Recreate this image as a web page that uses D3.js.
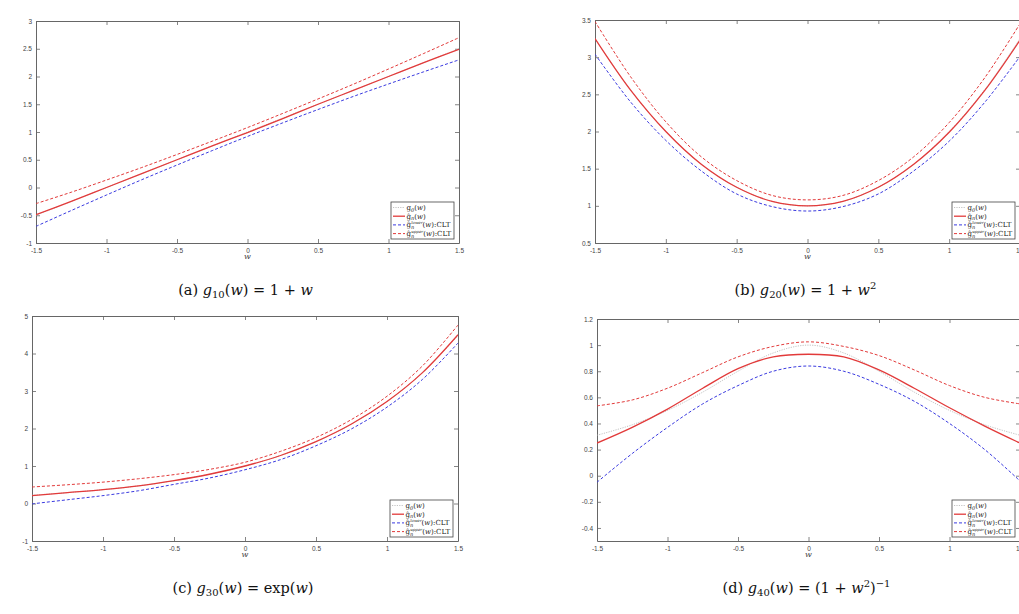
<!DOCTYPE html>
<html>
<head>
<meta charset="utf-8">
<script src="https://cdn.jsdelivr.net/npm/d3@7"></script>
<style>
  body { margin: 0; background: #fff; }
  svg { display: block; }
  .tick-label { font-family: "Liberation Sans", Arial, sans-serif; font-size: 6.5px; fill: #444; }
  .legend-text { font-family: "DejaVu Serif", "Liberation Serif", serif; font-size: 7px; fill: #222; }
  .caption { font-family: "DejaVu Serif", "Liberation Serif", serif; font-size: 14.5px; fill: #111; }
  .xlabel { font-family: "DejaVu Serif", "Liberation Serif", serif; font-style: italic; font-size: 8px; fill: #444; }
</style>
</head>
<body>
<svg id="chart" width="1019" height="614"></svg>
<script>
const wGrid = [-1.5, -1.25, -1, -0.75, -0.5, -0.25, 0, 0.25, 0.5, 0.75, 1, 1.25, 1.5];
const xTicks = [-1.5, -1, -0.5, 0, 0.5, 1, 1.5];

// (a) g10(w) = 1 + w
const g0A    = [-0.5, -0.25, 0, 0.25, 0.5, 0.75, 1, 1.25, 1.5, 1.75, 2, 2.25, 2.5];
const hatA   = [-0.49, -0.25, 0, 0.25, 0.5, 0.75, 0.99, 1.24, 1.5, 1.75, 2, 2.25, 2.49];
const lowerA = [-0.7, -0.415, -0.135, 0.14, 0.405, 0.665, 0.92, 1.165, 1.405, 1.64, 1.865, 2.085, 2.3];
const upperA = [-0.29, -0.085, 0.135, 0.36, 0.595, 0.835, 1.08, 1.335, 1.595, 1.86, 2.135, 2.415, 2.7];
const yTicksA = [-1, -0.5, 0, 0.5, 1, 1.5, 2, 2.5, 3];

// (b) g20(w) = 1 + w^2
const g0B    = [3.25, 2.56, 2.0, 1.56, 1.25, 1.06, 1.0, 1.06, 1.25, 1.56, 2.0, 2.56, 3.25];
const hatB   = [3.25, 2.56, 2.0, 1.56, 1.25, 1.06, 1.0, 1.06, 1.25, 1.56, 1.99, 2.55, 3.23];
const lowerB = [3.04, 2.40, 1.88, 1.47, 1.16, 0.99, 0.93, 0.99, 1.16, 1.47, 1.87, 2.39, 3.01];
const upperB = [3.48, 2.74, 2.13, 1.66, 1.34, 1.14, 1.08, 1.14, 1.34, 1.66, 2.12, 2.72, 3.45];
const yTicksB = [0.5, 1, 1.5, 2, 2.5, 3, 3.5];

// (c) g30(w) = exp(w)
const g0C    = [0.22, 0.29, 0.37, 0.47, 0.61, 0.78, 1.0, 1.28, 1.65, 2.12, 2.72, 3.49, 4.48];
const hatC   = [0.21, 0.29, 0.37, 0.47, 0.61, 0.78, 1.0, 1.28, 1.65, 2.12, 2.72, 3.49, 4.5];
const lowerC = [-0.01, 0.1, 0.21, 0.34, 0.51, 0.68, 0.9, 1.17, 1.54, 1.99, 2.57, 3.31, 4.28];
const upperC = [0.44, 0.5, 0.57, 0.66, 0.77, 0.91, 1.1, 1.39, 1.76, 2.24, 2.86, 3.67, 4.76];
const yTicksC = [-1, 0, 1, 2, 3, 4, 5];

// (d) g40(w) = (1 + w^2)^-1
const g0D    = [0.31, 0.39, 0.5, 0.64, 0.8, 0.94, 1.0, 0.94, 0.8, 0.64, 0.5, 0.39, 0.31];
const hatD   = [0.25, 0.37, 0.51, 0.67, 0.82, 0.91, 0.93, 0.91, 0.81, 0.67, 0.52, 0.38, 0.25];
const lowerD = [-0.05, 0.17, 0.37, 0.55, 0.69, 0.80, 0.84, 0.80, 0.70, 0.57, 0.40, 0.20, -0.04];
const upperD = [0.535, 0.58, 0.67, 0.79, 0.91, 0.99, 1.025, 0.99, 0.92, 0.81, 0.69, 0.60, 0.55];
const yTicksD = [-0.4, -0.2, 0, 0.2, 0.4, 0.6, 0.8, 1, 1.2];

let svg = d3.select("#chart");

let panels = [
    {id: "a", box: [36, 21, 459, 243], yDomain: [-1, 3], yTicks: yTicksA,
     series: [g0A, hatA, lowerA, upperA], num: "10", rhs: [["1 + ", 0], ["w", "i"]]},
    {id: "b", box: [595, 20, 1020, 243], yDomain: [0.5, 3.5], yTicks: yTicksB,
     series: [g0B, hatB, lowerB, upperB], num: "20", rhs: [["1 + ", 0], ["w", "i"], ["2", "sup"]]},
    {id: "c", box: [32, 316, 458, 541], yDomain: [-1, 5], yTicks: yTicksC,
     series: [g0C, hatC, lowerC, upperC], num: "30", rhs: [["exp(", 0], ["w", "i"], [")", 0]]},
    {id: "d", box: [597, 319, 1020, 541], yDomain: [-0.5, 1.2], yTicks: yTicksD,
     series: [g0D, hatD, lowerD, upperD], num: "40",
     rhs: [["(1 + ", 0], ["w", "i"], ["2", "sup"], [")", 0], ["\u22121", "sup"]]}
];

let styles = [
    {color: "#b4b4b4", width: 0.8, dash: "1.2,1.2"},
    {color: "#e23a3a", width: 1.3, dash: null},
    {color: "#3a3ae0", width: 1, dash: "3,2"},
    {color: "#e23a3a", width: 1, dash: "3,2"}
];

let fmt = d => String(+d.toFixed(2));

// legend entries: [text, kind] where kind controls italic / sub / sup placement
let legendLabels = [
    [["g", 0], ["0", "sub"], ["(", "base"], ["w", "i"], [")", 0]],
    [["\u011D", 0], ["n", "sub"], ["(", "base"], ["w", "i"], [")", 0]],
    [["\u011D", 0], ["n", "sub"], ["lower", "supAfterSub"], ["(", "baseFromSup"], ["w", "i"], ["):CLT", 0]],
    [["\u011D", 0], ["n", "sub"], ["upper", "supAfterSub"], ["(", "baseFromSup"], ["w", "i"], ["):CLT", 0]]
];

panels.forEach(p => {
    let [x0, y0, x1, y1] = p.box;
    let xScale = d3.scaleLinear().domain([-1.5, 1.5]).range([x0, x1]);
    let yScale = d3.scaleLinear().domain(p.yDomain).range([y1, y0]);
    let g = svg.append("g").attr("class", "panel-" + p.id);

    g.append("clipPath").attr("id", "clip-" + p.id)
        .append("rect").attr("x", x0).attr("y", y0).attr("width", x1 - x0).attr("height", y1 - y0);

    // axes box with inward ticks on all four sides
    let tl = 4;
    let axisColor = "#666";
    let bottom = d3.axisBottom(xScale).tickValues(xTicks).tickSizeInner(-tl).tickSizeOuter(0).tickFormat(fmt).tickPadding(5);
    let top = d3.axisTop(xScale).tickValues(xTicks).tickSizeInner(-tl).tickSizeOuter(0).tickFormat("");
    let left = d3.axisLeft(yScale).tickValues(p.yTicks).tickSizeInner(-tl).tickSizeOuter(0).tickFormat(fmt).tickPadding(4);
    let right = d3.axisRight(yScale).tickValues(p.yTicks).tickSizeInner(-tl).tickSizeOuter(0).tickFormat("");

    let axes = [
        g.append("g").attr("transform", `translate(0,${y1})`).call(bottom),
        g.append("g").attr("transform", `translate(0,${y0})`).call(top),
        g.append("g").attr("transform", `translate(${x0},0)`).call(left),
        g.append("g").attr("transform", `translate(${x1},0)`).call(right)
    ];
    axes.forEach(a => {
        a.select(".domain").attr("stroke", axisColor).attr("stroke-width", 1);
        a.selectAll(".tick line").attr("stroke", axisColor).attr("stroke-width", 0.8);
        a.selectAll(".tick text").attr("class", "tick-label").attr("fill", null);
        a.attr("font-family", null).attr("font-size", null);
    });

    // curves
    let line = d3.line()
        .x((d, i) => xScale(wGrid[i]))
        .y(d => yScale(d))
        .curve(d3.curveCatmullRom.alpha(0.5));

    let curves = g.append("g").attr("clip-path", `url(#clip-${p.id})`);
    p.series.forEach((s, k) => {
        curves.append("path")
            .datum(s)
            .attr("d", line)
            .attr("fill", "none")
            .attr("stroke", styles[k].color)
            .attr("stroke-width", styles[k].width)
            .attr("stroke-dasharray", styles[k].dash);
    });

    // x label
    g.append("text").attr("class", "xlabel")
        .attr("x", xScale(0))
        .attr("y", y1 + 16)
        .attr("text-anchor", "middle")
        .text("w");

    // legend
    let lw = 63, lh = 37;
    let lx = x1 - 68, ly = y1 - 41;
    let legend = g.append("g").attr("class", "legend").attr("transform", `translate(${lx},${ly})`);
    legend.append("rect").attr("width", lw).attr("height", lh)
        .attr("fill", "#fff").attr("stroke", "#444").attr("stroke-width", 0.8);

    legendLabels.forEach((parts, k) => {
        let ry = 5.5 + k * 8.7;
        legend.append("line")
            .attr("x1", 2).attr("x2", 14).attr("y1", ry).attr("y2", ry)
            .attr("stroke", styles[k].color)
            .attr("stroke-width", styles[k].width)
            .attr("stroke-dasharray", styles[k].dash);
        let t = legend.append("text").attr("class", "legend-text")
            .attr("x", 15.5).attr("y", ry + 2.5);
        parts.forEach(([txt, kind]) => {
            let ts = t.append("tspan").text(txt);
            if (kind === "i") ts.attr("font-style", "italic");
            if (kind === "sub") ts.attr("font-size", "5px").attr("font-style", "italic").attr("dy", 1.5);
            if (kind === "base") ts.attr("dy", -1.5);
            if (kind === "supAfterSub") ts.attr("font-size", "4px").attr("font-style", "italic").attr("dx", -3).attr("dy", -5);
            if (kind === "baseFromSup") ts.attr("dy", 3.5);
        });
    });

    // caption
    let cap = svg.append("text").attr("class", "caption")
        .attr("x", (x0 + Math.min(x1, 1020)) / 2 - 2)
        .attr("y", y1 + 52)
        .attr("text-anchor", "middle");
    cap.append("tspan").text(`(${p.id}) `);
    cap.append("tspan").attr("font-style", "italic").text("g");
    cap.append("tspan").attr("font-size", "10px").attr("dy", 3).text(p.num);
    cap.append("tspan").attr("dy", -3).text("(");
    cap.append("tspan").attr("font-style", "italic").text("w");
    cap.append("tspan").text(") = ");
    let raised = false;
    p.rhs.forEach(([txt, kind]) => {
        let ts = cap.append("tspan").text(txt);
        if (kind === "i") ts.attr("font-style", "italic");
        if (kind === "sup") {
            ts.attr("font-size", "10px").attr("dy", raised ? 0 : -6);
            raised = true;
        } else if (raised) {
            ts.attr("dy", 6);
            raised = false;
        }
    });
});
</script>
</body>
</html>
